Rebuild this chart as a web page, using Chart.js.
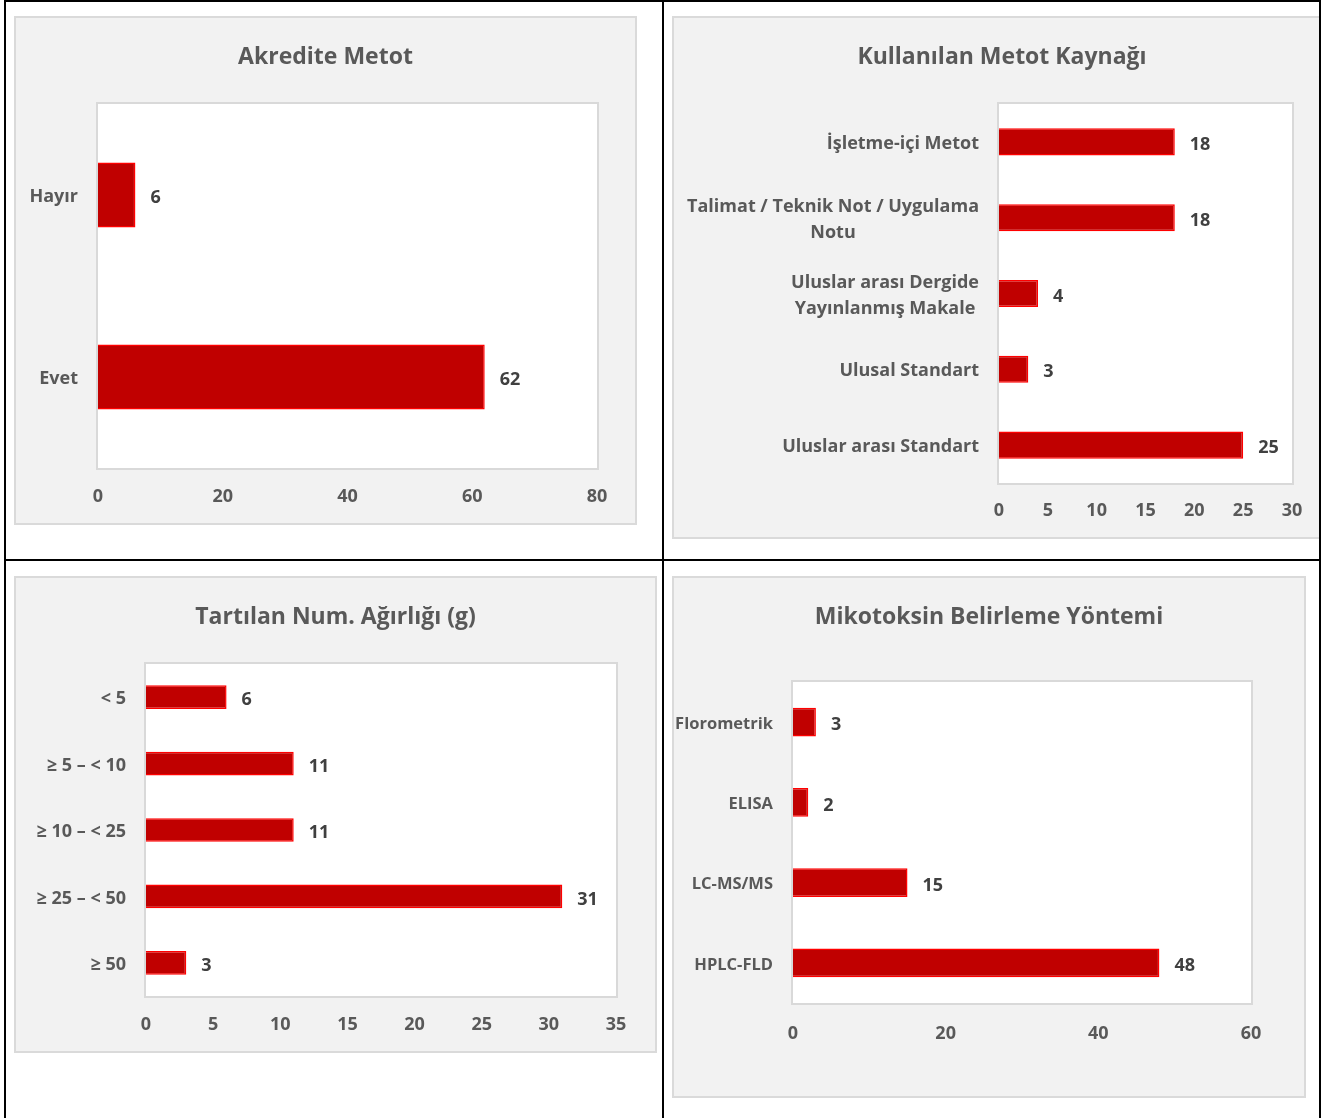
<!DOCTYPE html>
<html lang="tr">
<head>
<meta charset="utf-8">
<title>Metot anketi</title>
<script src="https://cdn.jsdelivr.net/npm/chart.js@4.4.1/dist/chart.umd.min.js"></script>
<style>
  html, body { margin: 0; padding: 0; background: #fff; }
  body { width: 1333px; height: 1118px; position: relative; overflow: hidden; }
  #clip { position: absolute; left: 0; top: 0; width: 1319px; height: 1118px; overflow: hidden; }
  .panel { position: absolute; box-sizing: border-box; background: #f2f2f2; border: 2px solid #dadada; }
  .panel canvas { position: absolute; left: 0; top: 0; }
  .rule { position: absolute; background: #000; }
</style>
</head>
<body>
<div id="clip">
  <div class="panel" style="left:14px;top:16px;width:623px;height:509px"><canvas id="akredite" width="619" height="505"></canvas></div>
  <div class="panel" style="left:672px;top:16px;width:660px;height:523px"><canvas id="kaynak" width="656" height="519"></canvas></div>
  <div class="panel" style="left:14px;top:576px;width:643px;height:477px"><canvas id="agirlik" width="639" height="473"></canvas></div>
  <div class="panel" style="left:672px;top:576px;width:634px;height:522px"><canvas id="yontem" width="630" height="518"></canvas></div>
</div>
<!-- table grid lines -->
<div class="rule" style="left:4px;top:0;width:1317px;height:2px"></div>
<div class="rule" style="left:4px;top:0;width:2px;height:1118px"></div>
<div class="rule" style="left:1319px;top:0;width:2px;height:1118px"></div>
<div class="rule" style="left:662px;top:0;width:2px;height:1118px"></div>
<div class="rule" style="left:4px;top:559px;width:1317px;height:2px"></div>

<script>
// Akredite Metot
const akrediteLabels = ["Hayır", "Evet"];
const akrediteValues = [6, 62];
const akrediteTicks = [0, 20, 40, 60, 80];

// Kullanılan Metot Kaynağı
const kaynakLabels = [
  ["İşletme-içi Metot"],
  ["Talimat / Teknik Not / Uygulama", "Notu"],
  ["Uluslar arası Dergide", "Yayınlanmış Makale"],
  ["Ulusal Standart"],
  ["Uluslar arası Standart"]
];
const kaynakValues = [18, 18, 4, 3, 25];
const kaynakTicks = [0, 5, 10, 15, 20, 25, 30];

// Tartılan Num. Ağırlığı (g)
const agirlikLabels = ["< 5", "≥ 5 – < 10", "≥ 10 – < 25", "≥ 25 – < 50", "≥ 50"];
const agirlikValues = [6, 11, 11, 31, 3];
const agirlikTicks = [0, 5, 10, 15, 20, 25, 30, 35];

// Mikotoksin Belirleme Yöntemi
const yontemLabels = ["Florometrik", "ELISA", "LC-MS/MS", "HPLC-FLD"];
const yontemValues = [3, 2, 15, 48];
const yontemTicks = [0, 20, 40, 60];

const FONT = "'Open Sans', sans-serif";
const GREY = "#595959";
const DARK = "#404040";
const BAR_FILL = "#c00000";
const BAR_LINE = "#ff0000";

// white plot area with a light frame, drawn under the bars
const plotFrame = {
  id: "plotFrame",
  beforeDatasetsDraw(chart) {
    const a = chart.chartArea, ctx = chart.ctx;
    ctx.save();
    ctx.fillStyle = "#fff";
    ctx.fillRect(a.left, a.top, a.right - a.left, a.bottom - a.top);
    ctx.strokeStyle = "#d9d9d9";
    ctx.lineWidth = 2;
    ctx.strokeRect(a.left - 1, a.top - 1, a.right - a.left + 2, a.bottom - a.top + 2);
    ctx.restore();
  }
};

// category names: block right-aligned to the plot, lines centred inside the block
const catLabels = {
  id: "catLabels",
  afterDraw(chart, args, opts) {
    const y = chart.scales.y, ctx = chart.ctx;
    const right = chart.chartArea.left - 20;
    ctx.save();
    ctx.font = "bold " + (opts.size || 18) + "px " + FONT;
    ctx.fillStyle = GREY;
    ctx.textAlign = "center";
    ctx.textBaseline = "middle";
    chart.data.labels.forEach((lab, i) => {
      const lines = Array.isArray(lab) ? lab : [lab];
      const w = Math.max(...lines.map(l => ctx.measureText(l).width));
      const cx = right - w / 2;
      const cy = y.getPixelForTick(i) + 2;
      const lh = 26;
      lines.forEach((l, k) => {
        ctx.fillText(l, cx, cy + (k - (lines.length - 1) / 2) * lh);
      });
    });
    ctx.restore();
  }
};

// value printed just past the end of each bar
const barValues = {
  id: "barValues",
  afterDatasetsDraw(chart) {
    const ctx = chart.ctx;
    const ds = chart.data.datasets[0];
    ctx.save();
    ctx.font = "bold 18px " + FONT;
    ctx.fillStyle = DARK;
    ctx.textAlign = "left";
    ctx.textBaseline = "middle";
    chart.getDatasetMeta(0).data.forEach((bar, i) => {
      ctx.fillText(String(ds.data[i]), bar.x + 15, bar.y + 3);
    });
    ctx.restore();
  }
};

function barChart(id, title, labels, values, ticks, box) {
  const titleLH = 23 * 1.2;
  const tickLH = 18 * 1.2;
  const canvas = document.getElementById(id);
  const hidden = {
    grid: { display: false, drawTicks: false },
    border: { display: false },
    ticks: { display: false }
  };
  return new Chart(canvas, {
    type: "bar",
    data: {
      labels: labels,
      datasets: [{
        data: values,
        backgroundColor: BAR_FILL,
        borderColor: BAR_LINE,
        borderWidth: 1.5,
        borderSkipped: "start",
        categoryPercentage: 1,
        barPercentage: 0.357
      }]
    },
    options: {
      indexAxis: "y",
      responsive: false,
      animation: false,
      layout: { padding: 0 },
      plugins: {
        legend: { display: false },
        tooltip: { enabled: false },
        catLabels: { size: box.labelSize || 18 },
        title: {
          display: true,
          text: title,
          color: GREY,
          font: { family: FONT, size: 23, weight: "bold" },
          padding: { top: box.titleY - titleLH / 2, bottom: box.top - box.titleY - titleLH / 2 }
        }
      },
      scales: {
        x: {
          min: ticks[0],
          max: ticks[ticks.length - 1],
          grid: { display: false, drawTicks: false },
          border: { display: false },
          ticks: {
            stepSize: ticks[1] - ticks[0],
            color: GREY,
            padding: box.tickGap - tickLH / 2,
            font: { family: FONT, size: 18, weight: "bold" }
          },
          afterFit(s) { s.height = canvas.height - box.bottom; }
        },
        y: Object.assign({}, hidden, {
          afterFit(s) { s.width = box.left; }
        }),
        // empty strip on the right so the title stays centred on the panel
        yRight: Object.assign({}, hidden, {
          type: "category",
          position: "right",
          afterFit(s) { s.width = canvas.width - box.right; }
        })
      }
    },
    plugins: [plotFrame, catLabels, barValues]
  });
}

barChart("akredite", "Akredite Metot", akrediteLabels, akrediteValues, akrediteTicks,
  { left: 82, right: 581, top: 86, bottom: 450, titleY: 39, tickGap: 29 });
barChart("kaynak", "Kullanılan Metot Kaynağı", kaynakLabels, kaynakValues, kaynakTicks,
  { left: 325, right: 618, top: 86, bottom: 465, titleY: 39, tickGap: 28 });
barChart("agirlik", "Tartılan Num. Ağırlığı (g)", agirlikLabels, agirlikValues, agirlikTicks,
  { left: 130, right: 600, top: 86, bottom: 418, titleY: 39, tickGap: 29 });
barChart("yontem", "Mikotoksin Belirleme Yöntemi", yontemLabels, yontemValues, yontemTicks,
  { left: 119, right: 577, top: 104, bottom: 425, titleY: 39, tickGap: 31, labelSize: 16.5 });
</script>
</body>
</html>
